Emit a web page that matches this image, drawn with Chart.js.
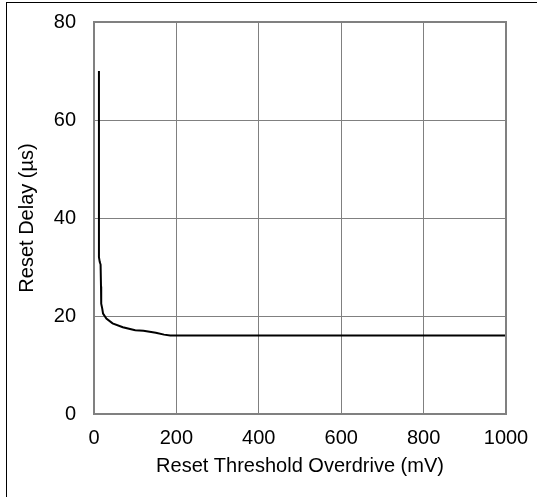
<!DOCTYPE html>
<html>
<head>
<meta charset="utf-8">
<script src="https://cdn.jsdelivr.net/npm/chart.js@4/dist/chart.umd.min.js"></script>
<style>
    body { margin: 0; background: #fff; }
    #wrap { position: relative; width: 537px; height: 497px; }
    #frame { position: absolute; left: 6px; top: 2px; right: 0; bottom: 0;
             border-left: 1.5px solid #000; border-top: 1.5px solid #000; pointer-events: none; }
</style>
</head>
<body>
<div id="wrap">
    <canvas id="delay" width="537" height="497"></canvas>
    <div id="frame"></div>
</div>
<script>
// reset delay vs overdrive
const overdrive = [12, 12, 12, 14, 16, 17, 17, 18, 20, 22, 30, 45, 70, 100, 120, 150, 170, 185, 1000];
const delay = [70, 40, 32, 31, 30.5, 26, 23.5, 22.5, 21.5, 20.5, 19.5, 18.5, 17.7, 17.1, 17.0, 16.6, 16.2, 16, 16];
const xTicks = [0, 200, 400, 600, 800, 1000];
const yTicks = [0, 20, 40, 60, 80];

const font = { family: 'Liberation Sans, Arial, sans-serif', size: 20 };

const ctx = document.getElementById('delay').getContext('2d');
const chart = new Chart(ctx, {
    type: 'scatter',
    data: {
        datasets: [{
            data: overdrive.map((x, i) => ({ x: x, y: delay[i] })),
            showLine: true,
            borderColor: '#000',
            borderWidth: 2,
            pointRadius: 0,
            fill: false
        }]
    },
    options: {
        responsive: false,
        animation: false,
        layout: { padding: { top: 22, right: 31, left: 10, bottom: 0 } },
        plugins: { legend: { display: false }, tooltip: { enabled: false } },
        scales: {
            x: {
                type: 'linear',
                min: 0, max: 1000,
                afterBuildTicks: s => { s.ticks = xTicks.map(v => ({ value: v })); },
                afterFit: s => { s.height = 83; s.paddingLeft = 0; s.paddingRight = 0; },
                grid: { color: '#808080', lineWidth: 1, drawTicks: false },
                border: { color: '#808080', width: 2 },
                ticks: { color: '#000', font: font, padding: 12, maxRotation: 0, callback: v => String(v) },
                title: { display: true, text: 'Reset Threshold Overdrive (mV)', color: '#000', font: font, padding: { top: 0, bottom: 19 } }
            },
            y: {
                min: 0, max: 80,
                afterBuildTicks: s => { s.ticks = yTicks.map(v => ({ value: v })); },
                afterFit: s => { s.width = 84; s.paddingTop = 0; s.paddingBottom = 0; },
                grid: { color: '#808080', lineWidth: 1, drawTicks: false },
                border: { color: '#808080', width: 2 },
                ticks: { color: '#000', font: font, padding: 18, callback: v => String(v) },
                title: { display: true, text: 'Reset Delay (µs)', color: '#000', font: font, padding: { top: 5, bottom: 0 } }
            }
        }
    },
    plugins: [{
        // right and top edges of the plot box
        id: 'box',
        afterDraw(c) {
            const a = c.chartArea, g = c.ctx;
            g.save();
            g.strokeStyle = '#808080';
            g.lineWidth = 2;
            g.beginPath();
            g.moveTo(a.left, a.top); g.lineTo(a.right, a.top); g.lineTo(a.right, a.bottom);
            g.stroke();
            g.restore();
        }
    }]
});
</script>
</body>
</html>
